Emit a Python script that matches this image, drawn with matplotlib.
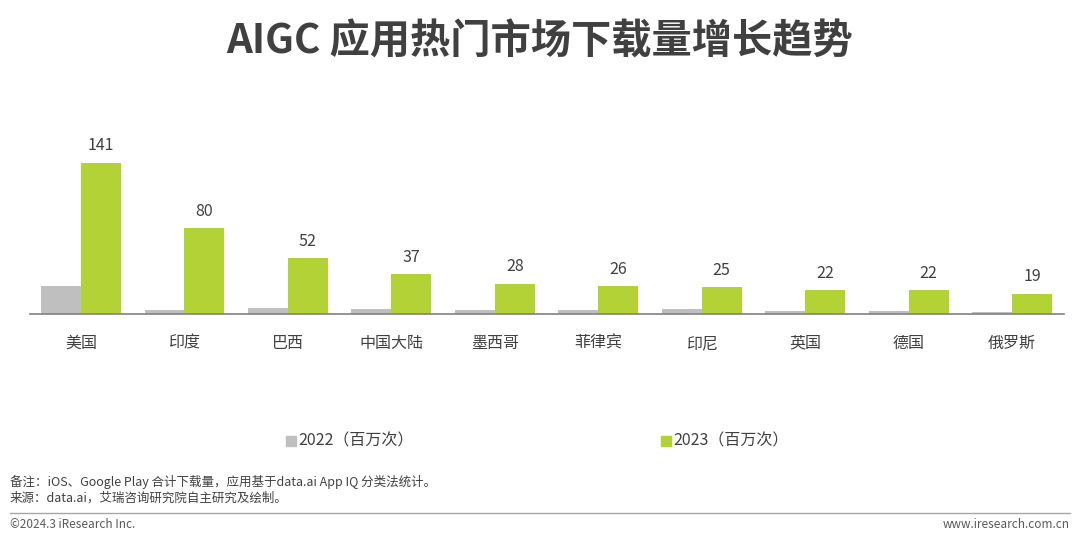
import matplotlib
matplotlib.use('Agg')
import matplotlib.pyplot as plt
import numpy as np

plt.rcParams['font.family'] = ['Noto Sans CJK SC', 'DejaVu Sans']

# data
markets = ['美国', '印度', '巴西', '中国大陆', '墨西哥', '菲律宾', '印尼', '英国', '德国', '俄罗斯']
dl_2022 = [26, 3.7, 5.6, 4.7, 4, 4, 4.7, 2.5, 2.5, 2]
dl_2023 = [141, 80, 52, 37, 28, 26, 25, 22, 22, 19]
series_names = ['2022（百万次）', '2023（百万次）']

gray = '#BFBFBF'
green = '#B2D235'
txt = '#404040'

fig = plt.figure(figsize=(10.8, 5.41), dpi=100)
ax = fig.add_axes([30 / 1080, 1 - 314 / 541, 1034 / 1080, 171.4 / 541])

x = np.arange(len(markets))
w = 0.386
ax.bar(x - w / 2, dl_2022, w, color=gray, label=series_names[0])
ax.bar(x + w / 2, dl_2023, w, color=green, label=series_names[1])

for xi, v in zip(x, dl_2023):
    ax.text(xi + w / 2, v + 8, str(v), ha='center', va='bottom', fontsize=11.5, color=txt)

ax.set_xlim(-0.493, 9.502)
ax.set_ylim(0, 160)
ax.set_yticks([])
ax.set_xticks(x)
ax.set_xticklabels(markets, fontsize=11.5, color=txt)
ax.tick_params(axis='x', length=0, pad=15)
for s in ['top', 'right', 'left']:
    ax.spines[s].set_visible(False)
ax.spines['bottom'].set_color('#808080')
ax.spines['bottom'].set_linewidth(1.2)

# title
fig.text(0.5, 1 - 42 / 541, 'AIGC 应用热门市场下载量增长趋势', ha='center', va='center',
         fontsize=29, fontweight='bold', color='#404040')

# legend
ly = 1 - 441 / 541
fig.patches.append(plt.Rectangle((286 / 1080, ly - 5 / 541), 10 / 1080, 10 / 541,
                                 transform=fig.transFigure, color=gray))
fig.text(298 / 1080, ly, series_names[0], ha='left', va='center', fontsize=11.5, color=txt)
fig.patches.append(plt.Rectangle((661 / 1080, ly - 5 / 541), 10 / 1080, 10 / 541,
                                 transform=fig.transFigure, color=green))
fig.text(673 / 1080, ly, series_names[1], ha='left', va='center', fontsize=11.5, color=txt)

# notes
fig.text(10 / 1080, 1 - 482 / 541, '备注：iOS、Google Play 合计下载量，应用基于data.ai App IQ 分类法统计。',
         ha='left', va='center', fontsize=9, color=txt)
fig.text(10 / 1080, 1 - 498 / 541, '来源：data.ai，艾瑞咨询研究院自主研究及绘制。',
         ha='left', va='center', fontsize=9, color=txt)
fig.add_artist(plt.Line2D([10 / 1080, 1070 / 1080], [1 - 513 / 541, 1 - 513 / 541],
                          transform=fig.transFigure, color='#A6A6A6', linewidth=1))
fig.text(10 / 1080, 1 - 525 / 541, '©2024.3 iResearch Inc.', ha='left', va='center',
         fontsize=8.5, color='#595959')
fig.text(1070 / 1080, 1 - 525 / 541, 'www.iresearch.com.cn', ha='right', va='center',
         fontsize=8.5, color='#595959')

fig.savefig('out.png', dpi=100, facecolor='white')
